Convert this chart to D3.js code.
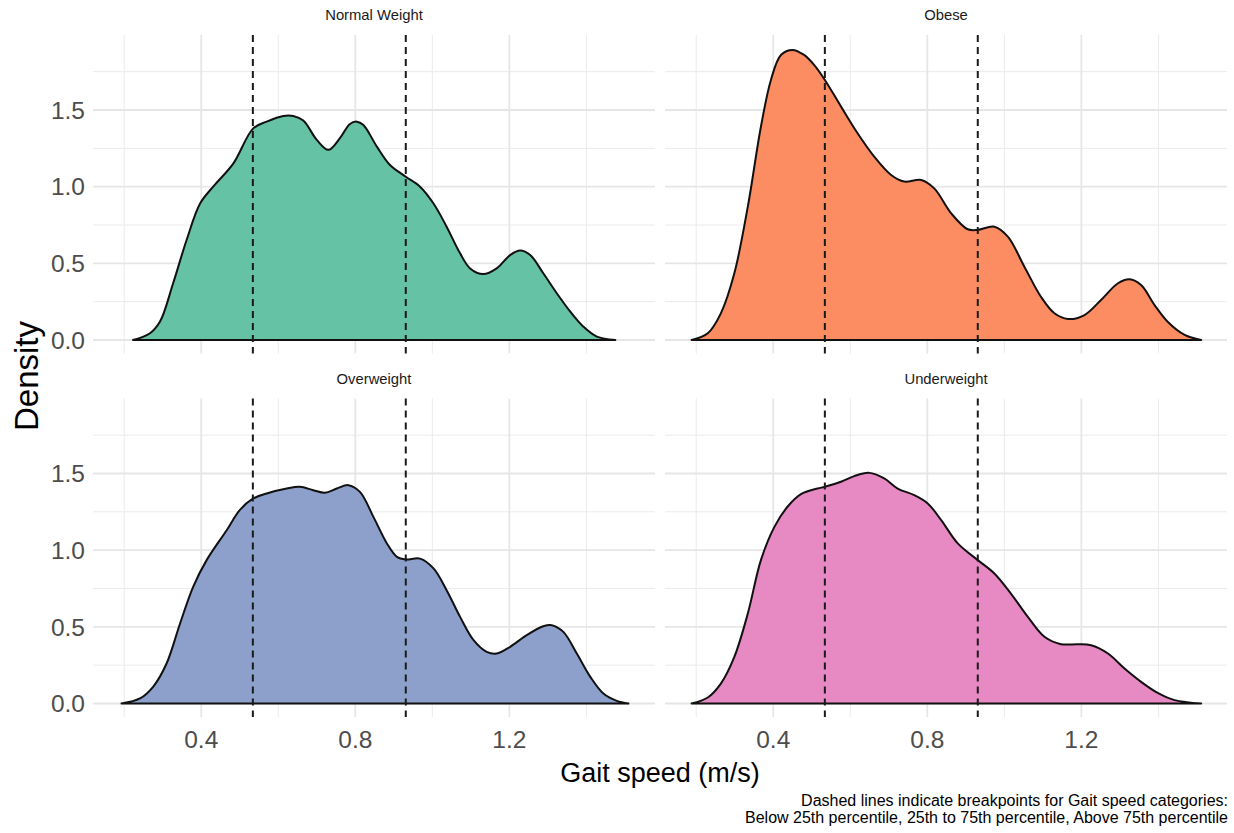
<!DOCTYPE html>
<html>
<head>
<meta charset="utf-8">
<script src="https://cdn.jsdelivr.net/npm/d3@7"></script>
<style>
body{margin:0;background:#fff;}
text{font-family:"Liberation Sans",Arial,sans-serif;}
</style>
</head>
<body>
<div id="chart"></div>
<script>
// facet names and fills (Set2)
var groups = ["Normal Weight", "Obese", "Overweight", "Underweight"];
var fills = ["#66c2a5", "#fc8d62", "#8da0cb", "#e78ac3"];
var breakpoints = [0.534, 0.931];
var xMajor = [0.4, 0.8, 1.2];
var xMinor = [0.2, 0.6, 1.0, 1.4];
var yMajor = [0, 0.5, 1.0, 1.5];
var yMinor = [0.25, 0.75, 1.25, 1.75];

// density curves
var normalGait    = [0.223,0.267,0.293,0.327,0.362,0.397,0.431,0.483,0.535,0.57,0.613,0.639,0.665,0.70,0.73,0.76,0.786,0.804,0.821,0.856,0.89,0.931,0.968,1.003,1.037,1.072,1.098,1.132,1.167,1.202,1.228,1.254,1.288,1.323,1.358,1.392,1.427,1.475];
var normalDensity = [0,0.044,0.12,0.37,0.652,0.89,1.0,1.15,1.38,1.424,1.461,1.461,1.431,1.305,1.24,1.316,1.409,1.424,1.402,1.261,1.141,1.065,1.0,0.89,0.739,0.565,0.467,0.43,0.467,0.554,0.583,0.554,0.435,0.305,0.185,0.087,0.022,0];

var obeseGait    = [0.188,0.23,0.264,0.299,0.334,0.368,0.394,0.42,0.45,0.48,0.506,0.534,0.576,0.619,0.662,0.706,0.74,0.784,0.818,0.862,0.905,0.931,0.974,1.009,1.052,1.095,1.13,1.165,1.208,1.251,1.295,1.325,1.355,1.39,1.424,1.468,1.511];
var obeseDensity = [0,0.044,0.174,0.435,0.87,1.391,1.696,1.859,1.892,1.859,1.794,1.696,1.522,1.348,1.196,1.076,1.033,1.044,0.989,0.826,0.722,0.718,0.739,0.674,0.478,0.282,0.174,0.137,0.163,0.261,0.37,0.396,0.359,0.228,0.119,0.033,0];

var overGait    = [0.193,0.241,0.275,0.31,0.345,0.379,0.414,0.466,0.5,0.535,0.57,0.622,0.656,0.691,0.721,0.752,0.782,0.812,0.847,0.882,0.908,0.931,0.968,1.003,1.037,1.072,1.107,1.141,1.167,1.202,1.245,1.288,1.31,1.34,1.375,1.41,1.444,1.479,1.509];
var overDensity = [0,0.033,0.109,0.261,0.522,0.761,0.935,1.13,1.261,1.337,1.37,1.402,1.413,1.391,1.374,1.402,1.424,1.38,1.217,1.044,0.956,0.939,0.945,0.881,0.739,0.565,0.413,0.337,0.326,0.37,0.446,0.504,0.511,0.467,0.326,0.174,0.065,0.017,0];

var underGait    = [0.188,0.23,0.264,0.299,0.334,0.368,0.403,0.437,0.472,0.515,0.534,0.576,0.61,0.649,0.688,0.723,0.766,0.801,0.836,0.879,0.931,0.974,1.017,1.061,1.104,1.147,1.191,1.225,1.269,1.312,1.355,1.398,1.442,1.511];
var underDensity = [0,0.039,0.13,0.304,0.587,0.935,1.152,1.283,1.365,1.402,1.413,1.446,1.483,1.504,1.468,1.402,1.359,1.305,1.196,1.044,0.935,0.848,0.717,0.565,0.435,0.387,0.387,0.38,0.326,0.228,0.141,0.069,0.022,0];

var gaitByGroup = [normalGait, obeseGait, overGait, underGait];
var densityByGroup = [normalDensity, obeseDensity, overDensity, underDensity];

var W = 1234, H = 833;
var panelW = 562, panelH = 318.5;
var panelPos = [[93, 35], [665, 35], [93, 398.5], [665, 398.5]];

var svg = d3.select("#chart").append("svg")
  .attr("width", W).attr("height", H);

var x = d3.scaleLinear().domain([0.119, 1.578]).range([0, panelW]);
var y = d3.scaleLinear().domain([-0.088, 1.989]).range([panelH, 0]);

var area = d3.area()
  .x(function(d){ return x(d[0]); })
  .y0(y(0))
  .y1(function(d){ return Math.min(y(0), y(d[1])); })
  .curve(d3.curveCatmullRom.alpha(0.5));

groups.forEach(function(name, i){
  var g = svg.append("g")
    .attr("transform", "translate(" + panelPos[i][0] + "," + panelPos[i][1] + ")");

  // grid
  g.selectAll(".vminor").data(xMinor).enter().append("line")
    .attr("x1", x).attr("x2", x).attr("y1", 0).attr("y2", panelH)
    .attr("stroke", "#ebebeb").attr("stroke-width", 1);
  g.selectAll(".hminor").data(yMinor).enter().append("line")
    .attr("x1", 0).attr("x2", panelW).attr("y1", y).attr("y2", y)
    .attr("stroke", "#ebebeb").attr("stroke-width", 1);
  g.selectAll(".vmajor").data(xMajor).enter().append("line")
    .attr("x1", x).attr("x2", x).attr("y1", 0).attr("y2", panelH)
    .attr("stroke", "#e6e6e6").attr("stroke-width", 1.8);
  g.selectAll(".hmajor").data(yMajor).enter().append("line")
    .attr("x1", 0).attr("x2", panelW).attr("y1", y).attr("y2", y)
    .attr("stroke", "#e6e6e6").attr("stroke-width", 1.8);

  // density
  var pts = d3.zip(gaitByGroup[i], densityByGroup[i]);
  g.append("path")
    .datum(pts)
    .attr("d", function(d){ return area(d) + "Z"; })
    .attr("fill", fills[i])
    .attr("stroke", "#111")
    .attr("stroke-width", 2)
    .attr("stroke-linejoin", "round");

  // breakpoints
  g.selectAll(".bp").data(breakpoints).enter().append("line")
    .attr("x1", x).attr("x2", x).attr("y1", 0).attr("y2", panelH)
    .attr("stroke", "#1a1a1a").attr("stroke-width", 2)
    .attr("stroke-dasharray", "7,5");

  // strip label
  g.append("text")
    .attr("x", panelW / 2).attr("y", -15)
    .attr("text-anchor", "middle")
    .style("font-size", "14.8px").style("fill", "#1a1a1a")
    .text(name);

  // y tick labels on left column
  if (i % 2 === 0) {
    g.selectAll(".ylab").data(yMajor).enter().append("text")
      .attr("x", -8).attr("y", y).attr("dy", "0.36em")
      .attr("text-anchor", "end")
      .style("font-size", "24.5px").style("fill", "#4d4d4d")
      .text(d3.format(".1f"));
  }
  // x tick labels on bottom row
  if (i >= 2) {
    g.selectAll(".xlab").data(xMajor).enter().append("text")
      .attr("x", x).attr("y", panelH + 31)
      .attr("text-anchor", "middle")
      .style("font-size", "24.5px").style("fill", "#4d4d4d")
      .text(d3.format(".1f"));
  }
});

// axis titles
svg.append("text")
  .attr("transform", "translate(38,376) rotate(-90)")
  .attr("text-anchor", "middle")
  .style("font-size", "33px").style("fill", "#000")
  .text("Density");

svg.append("text")
  .attr("x", 660).attr("y", 782)
  .attr("text-anchor", "middle")
  .style("font-size", "27px").style("fill", "#000")
  .text("Gait speed (m/s)");

// caption
var caption = ["Dashed lines indicate breakpoints for Gait speed categories:",
  "Below 25th percentile, 25th to 75th percentile, Above 75th percentile"];
svg.selectAll(".cap").data(caption).enter().append("text")
  .attr("x", 1228).attr("y", function(d, i){ return 806 + i * 17; })
  .attr("text-anchor", "end")
  .style("font-size", "16px").style("fill", "#000")
  .text(function(d){ return d; });
</script>
</body>
</html>
